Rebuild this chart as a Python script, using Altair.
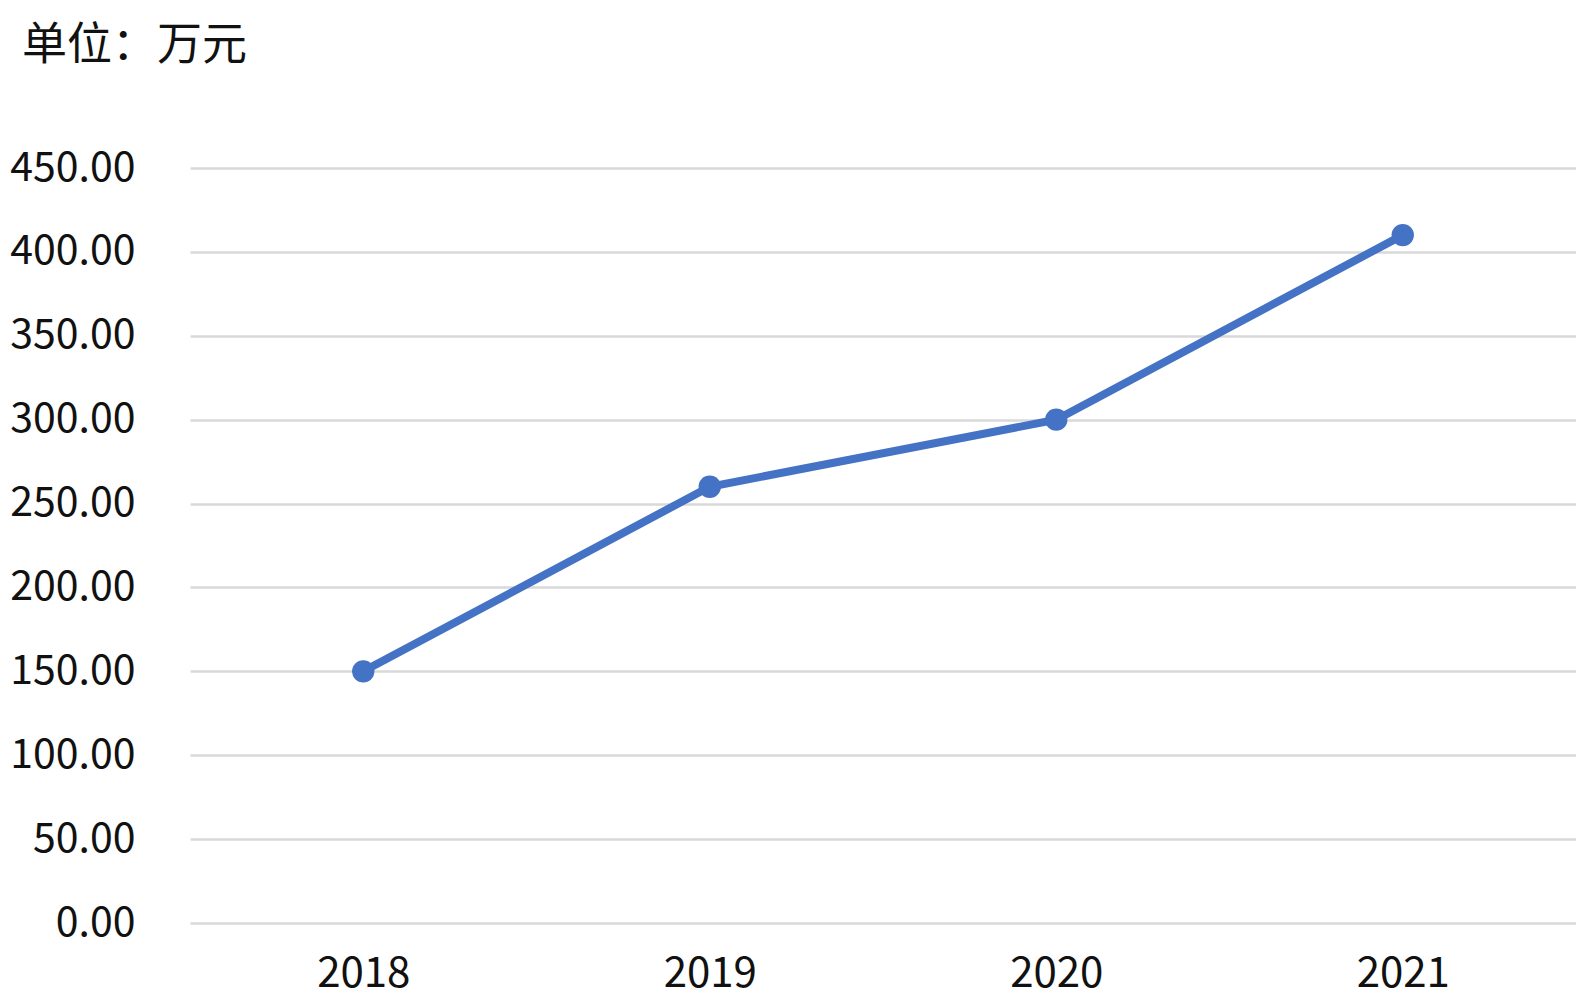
import altair as alt
import pandas as pd

years = ["2018", "2019", "2020", "2021"]
values = [150, 260, 300, 410]
y_ticks = [0, 50, 100, 150, 200, 250, 300, 350, 400, 450]

df = pd.DataFrame({"year": years, "value": values})

FONT = "Noto Sans CJK SC"
COLOR = "#4472C4"

base = alt.Chart(df).encode(
    x=alt.X("year:N", sort=years, title=None,
            scale=alt.Scale(paddingInner=0, paddingOuter=0),
            axis=alt.Axis(labelAngle=0, ticks=False, domain=False, grid=False,
                          labelFontSize=42, labelFont=FONT, labelColor="#111111",
                          labelPadding=30, labelBaseline="top")),
    y=alt.Y("value:Q", title=None,
            scale=alt.Scale(domain=[0, 450], nice=False, zero=True),
            axis=alt.Axis(values=y_ticks, format=".2f", ticks=False, domain=False,
                          grid=True, gridColor="#d9d9d9", gridWidth=2.5,
                          labelFontSize=41, labelFont=FONT, labelColor="#111111",
                          labelPadding=55)),
)

line = base.mark_line(color=COLOR, strokeWidth=8)
points = base.mark_circle(color=COLOR, size=500, opacity=1)

chart = (line + points).properties(
    width=1386,
    height=755,
    autosize=alt.AutoSizeParams(type="none"),
    padding={"left": 182, "top": 160, "right": 0, "bottom": 79},
    title=alt.TitleParams(
        "单位：万元", anchor="start", frame="group", dx=-168, dy=-38,
        font=FONT, fontSize=45, fontWeight="normal", color="#111111",
        baseline="alphabetic",
    ),
).configure(background="white").configure_view(stroke=None)

chart.save("out.html", embed_options={"renderer": "svg", "actions": False})
